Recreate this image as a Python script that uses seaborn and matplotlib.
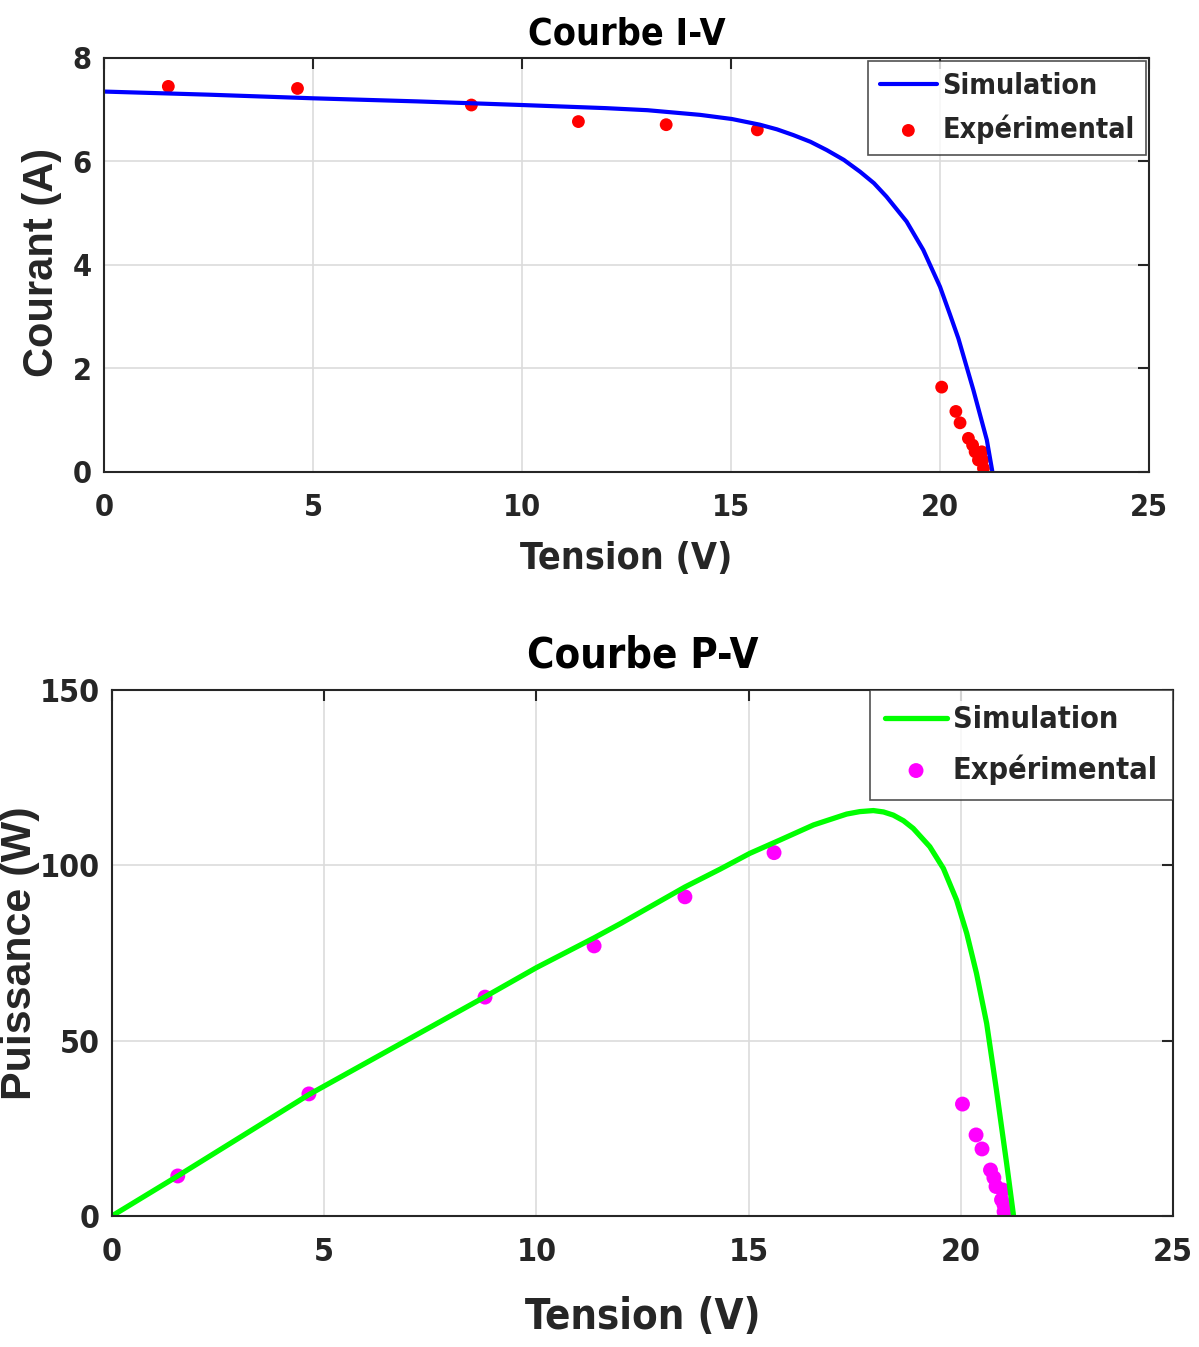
import numpy as np
import pandas as pd
import seaborn as sns
import matplotlib
matplotlib.use('Agg')
import matplotlib.pyplot as plt
from matplotlib import font_manager
from matplotlib.font_manager import FontProperties

# --- courbe I-V : simulation
v_sim_iv = [0, 2.5, 5, 7.5, 10, 12, 13, 14.26, 15.02, 15.69, 16.1, 16.49, 16.9, 17.29,
            17.7, 18.09, 18.42, 18.72, 19.2, 19.6, 20.0, 20.24, 20.44, 20.62, 20.8,
            20.96, 21.12, 21.25]
i_sim = [7.35, 7.29, 7.22, 7.16, 7.09, 7.03, 6.99, 6.90, 6.82, 6.71, 6.62, 6.51, 6.38, 6.22,
         6.03, 5.80, 5.58, 5.32, 4.84, 4.29, 3.58, 3.04, 2.58, 2.08, 1.58,
         1.10, 0.62, 0.02]

# --- courbe I-V : mesures
v_exp_iv = [1.54, 4.63, 8.79, 11.35, 13.45, 15.63, 20.04, 20.38, 20.48, 20.68,
            20.78, 20.84, 21.0, 20.92, 21.02, 21.04]
i_exp = [7.45, 7.41, 7.09, 6.77, 6.71, 6.61, 1.64, 1.17, 0.95, 0.65,
         0.52, 0.39, 0.39, 0.23, 0.23, 0.07]

# --- courbe P-V : simulation
v_sim_pv = [0, 1.55, 4.64, 8.79, 10, 11.36, 12, 13.5, 14.33, 15.03, 15.74, 16.53,
            17.31, 17.62, 17.94, 18.18, 18.41, 18.65, 18.88, 19.27, 19.59, 19.9,
            20.14, 20.37, 20.61, 20.84, 21.08, 21.24]
p_sim = [0, 11.4, 34.6, 62.5, 70.8, 79.3, 83.5, 93.8, 98.9, 103.4, 107.2, 111.5,
         114.6, 115.3, 115.6, 115.2, 114.3, 112.7, 110.5, 105.3, 99.1, 90.1,
         80.6, 69.2, 54.9, 35.9, 15.0, 0.3]

# --- courbe P-V : mesures
v_exp_pv = [1.55, 4.64, 8.79, 11.36, 13.5, 15.6, 20.04, 20.36, 20.5, 20.70,
            20.78, 20.83, 20.99, 20.96, 21.02, 21.02]
p_exp = [11.4, 34.8, 62.4, 77.0, 91.0, 103.6, 31.9, 23.1, 19.1, 13.1,
         10.9, 8.4, 7.4, 4.6, 3.1, 1.2]

sns.set_style('white')

# police étroite si disponible
narrow, stretch = 'DejaVu Sans', 'normal'
for f in font_manager.fontManager.ttflist:
    if f.name == 'Liberation Sans Narrow':
        narrow, stretch = f.name, 'normal'
        break
    if f.stretch in ('condensed', 'semi-condensed') and f.name == 'DejaVu Sans':
        narrow, stretch = f.name, 'condensed'
plt.rcParams['font.family'] = [narrow, 'DejaVu Sans']
plt.rcParams['font.stretch'] = stretch
plt.rcParams['font.weight'] = 'bold'

fig = plt.figure(figsize=(11.99, 13.47), dpi=100)
ax1 = fig.add_axes([0.0867, 0.6496, 0.8716, 0.3074])
ax2 = fig.add_axes([0.0934, 0.0973, 0.8849, 0.3905])

def style(ax, tsize):
    ax.grid(True, color='#dcdcdc', linewidth=1.2)
    ax.set_axisbelow(True)
    for s in ax.spines.values():
        s.set_visible(True)
        s.set_color('#262626')
        s.set_linewidth(1.5)
    ax.tick_params(direction='in', length=8, width=1.5, color='#262626',
                   labelcolor='#262626', labelsize=tsize, top=True, right=True)
    ax.tick_params(axis='x', pad=15)
    ax.tick_params(axis='y', pad=9)

def ylab(size):
    return FontProperties(family=['Liberation Sans', 'DejaVu Sans'], weight='bold',
                          stretch='normal', size=size)

# I-V
sns.lineplot(x=v_sim_iv, y=i_sim, ax=ax1, color='#0000ff', linewidth=3,
             label='Simulation', sort=False)
sns.scatterplot(x=v_exp_iv, y=i_exp, ax=ax1, color='#ff0000', s=85,
                edgecolor='none', label='Expérimental')
ax1.set_xlim(0, 25)
ax1.set_ylim(0, 8)
ax1.set_xticks([0, 5, 10, 15, 20, 25])
ax1.set_yticks([0, 2, 4, 6, 8])
style(ax1, 22)
ax1.set_title('Courbe I-V', fontsize=27, fontweight='bold', color='black', pad=10)
ax1.set_xlabel('Tension (V)', fontsize=27, fontweight='bold', color='#262626', labelpad=14)
ax1.set_ylabel('Courant (A)', fontproperties=ylab(30), color='#262626')
ax1.yaxis.set_label_coords(-0.040, 0.507)
leg1 = ax1.legend(loc='upper right', fontsize=20.5, frameon=True, fancybox=False,
                  edgecolor='#262626', handlelength=2.0, borderpad=0.4,
                  handletextpad=0.2, borderaxespad=0.1, labelspacing=0.5)
leg1.get_frame().set_linewidth(1.2)

# P-V
sns.lineplot(x=v_sim_pv, y=p_sim, ax=ax2, color='#00ff00', linewidth=3.8,
             label='Simulation', sort=False)
sns.scatterplot(x=v_exp_pv, y=p_exp, ax=ax2, color='#ff00ff', s=115,
                edgecolor='none', label='Expérimental')
ax2.set_xlim(0, 25)
ax2.set_ylim(0, 150)
ax2.set_xticks([0, 5, 10, 15, 20, 25])
ax2.set_yticks([0, 50, 100, 150])
style(ax2, 23)
ax2.set_title('Courbe P-V', fontsize=30, fontweight='bold', color='black', pad=16)
ax2.set_xlabel('Tension (V)', fontsize=30, fontweight='bold', color='#262626', labelpad=20)
ax2.set_ylabel('Puissance (W)', fontproperties=ylab(31), color='#262626')
ax2.yaxis.set_label_coords(-0.068, 0.50)
leg2 = ax2.legend(loc='upper right', fontsize=22, frameon=True, fancybox=False,
                  edgecolor='#262626', handlelength=2.0, borderpad=0.5,
                  handletextpad=0.2, borderaxespad=0.0, labelspacing=0.65)
leg2.get_frame().set_linewidth(1.2)

fig.savefig('out.png', dpi=100)
